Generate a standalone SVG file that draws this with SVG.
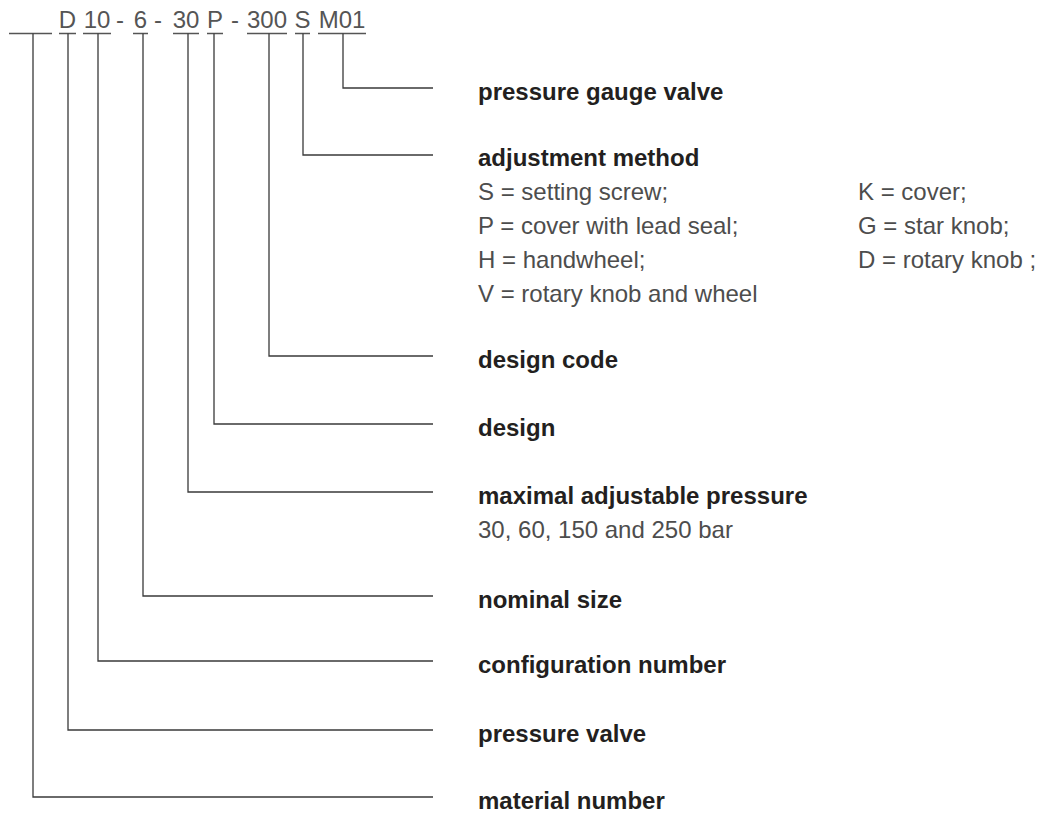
<svg xmlns="http://www.w3.org/2000/svg" width="1048" height="816" viewBox="0 0 1048 816">
<style>
.t{font-family:"Liberation Sans",Arial,Helvetica,sans-serif;font-size:24px;fill:#555}
.b{font-family:"Liberation Sans",Arial,Helvetica,sans-serif;font-size:24px;font-weight:bold;fill:#231f20}
.r{font-family:"Liberation Sans",Arial,Helvetica,sans-serif;font-size:24px;fill:#4d4d4d}
.ul{stroke:#555;stroke-width:1.3;fill:none}
.c{stroke:#3a3a3a;stroke-width:1.3;fill:none}
</style>
<rect width="1048" height="816" fill="#fff"/>
<g id="code">
<text class="t" text-anchor="middle" x="67.5" y="28">D</text>
<text class="t" text-anchor="middle" x="97" y="28">10</text>
<text class="t" text-anchor="middle" x="120" y="28">-</text>
<text class="t" text-anchor="middle" x="140.5" y="28">6</text>
<text class="t" text-anchor="middle" x="158" y="28">-</text>
<text class="t" text-anchor="middle" x="186" y="28">30</text>
<text class="t" text-anchor="middle" x="215" y="28">P</text>
<text class="t" text-anchor="middle" x="235" y="28">-</text>
<text class="t" text-anchor="middle" x="267" y="28">300</text>
<text class="t" text-anchor="middle" x="302.5" y="28">S</text>
<text class="t" text-anchor="middle" x="342" y="28">M01</text>
<path class="ul" d="M9,33.5H52M59,33.5H76M83,33.5H111M133,33.5H148M173,33.5H199M207,33.5H223M247,33.5H287M295,33.5H310M318,33.5H366"/>
</g>
<g id="connectors">
<path class="c" d="M33,33.5V797H433"/>
<path class="c" d="M68,33.5V730H433"/>
<path class="c" d="M98,33.5V661H433"/>
<path class="c" d="M143,33.5V596H433"/>
<path class="c" d="M188,33.5V492H433"/>
<path class="c" d="M214,33.5V424H433"/>
<path class="c" d="M269,33.5V356H433"/>
<path class="c" d="M303,33.5V155H433"/>
<path class="c" d="M343,33.5V88H433"/>
</g>
<g id="pressure-gauge-valve"><text class="b" x="478" y="100">pressure gauge valve</text></g>
<g id="adjustment-method">
<text class="b" x="478" y="166">adjustment method</text>
<text class="r" x="478" y="199.5">S = setting screw;</text>
<text class="r" x="478" y="233.5">P = cover with lead seal;</text>
<text class="r" x="478" y="267.5">H = handwheel;</text>
<text class="r" x="478" y="301.5">V = rotary knob and wheel</text>
<text class="r" x="858" y="199.5">K = cover;</text>
<text class="r" x="858" y="233.5">G = star knob;</text>
<text class="r" x="858" y="267.5">D = rotary knob ;</text>
</g>
<g id="design-code"><text class="b" x="478" y="368">design code</text></g>
<g id="design"><text class="b" x="478" y="436">design</text></g>
<g id="maximal-pressure">
<text class="b" x="478" y="504">maximal adjustable pressure</text>
<text class="r" x="478" y="538">30, 60, 150 and 250 bar</text>
</g>
<g id="nominal-size"><text class="b" x="478" y="608">nominal size</text></g>
<g id="configuration-number"><text class="b" x="478" y="673">configuration number</text></g>
<g id="pressure-valve"><text class="b" x="478" y="742">pressure valve</text></g>
<g id="material-number"><text class="b" x="478" y="809">material number</text></g>
</svg>
